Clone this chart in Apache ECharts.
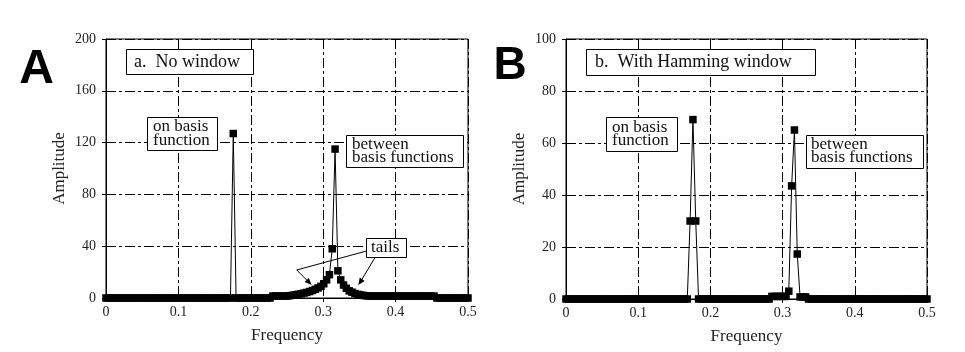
<!DOCTYPE html>
<html><head><meta charset="utf-8">
<script src="https://cdn.jsdelivr.net/npm/echarts@6/dist/echarts.min.js"></script>
<style>html,body{margin:0;padding:0;background:#fff}#c{width:965px;height:352px}</style>
</head><body><div id="c"></div>
<script>
// Frequency of each DFT bin (k/256), bins 0..128
var freq = [0,.0039,.0078,.0117,.0156,.0195,.0234,.0273,.0313,.0352,.0391,.043,.0469,.0508,.0547,.0586,.0625,.0664,.0703,.0742,
.0781,.082,.0859,.0898,.0938,.0977,.1016,.1055,.1094,.1133,.1172,.1211,.125,.1289,.1328,.1367,.1406,.1445,.1484,.1523,
.1563,.1602,.1641,.168,.1719,.1758,.1797,.1836,.1875,.1914,.1953,.1992,.2031,.207,.2109,.2148,.2188,.2227,.2266,.2305,
.2344,.2383,.2422,.2461,.25,.2539,.2578,.2617,.2656,.2695,.2734,.2773,.2813,.2852,.2891,.293,.2969,.3008,.3047,.3086,
.3125,.3164,.3203,.3242,.3281,.332,.3359,.3398,.3438,.3477,.3516,.3555,.3594,.3633,.3672,.3711,.375,.3789,.3828,.3867,
.3906,.3945,.3984,.4023,.4063,.4102,.4141,.418,.4219,.4258,.4297,.4336,.4375,.4414,.4453,.4492,.4531,.457,.4609,.4648,
.4688,.4727,.4766,.4805,.4844,.4883,.4922,.4961,.5];

// a. No window (bins 0..128)
var ampNoWindow = [
0,0,0,0,0,0,0,0,0,0, 0,0,0,0,0,0,0,0,0,0,
0,0,0,0,0,0,0,0,0,0, 0,0,0,0,0,0,0,0,0,0,
0,0,0,0,0,127,0,0,0,0, 0,0,0,0,0,0,0,0,0,1.5,
1.5,1.5,1.5,1.5,1.5,1.8,2.1,2.5,2.9,3.3, 3.8,4.3,5,5.8,6.7,7.8,9,11,14,18,
38,115,21,14,10,7.5,5.5,4.5,3.5,2.8, 2.4,2,1.7,1.5,1.5,1.5,1.5,1.5,1.5,1.5,
1.5,1.5,1.5,1.5,1.5,1.5,1.5,1.5,1.5,1.5, 1.5,1.5,1.5,1.5,1.5,1.5,1.5,0,0,0,
0,0,0,0,0,0,0,0,0];

// b. With Hamming window (bins 0..128)
var ampHamming = [
0,0,0,0,0,0,0,0,0,0, 0,0,0,0,0,0,0,0,0,0,
0,0,0,0,0,0,0,0,0,0, 0,0,0,0,0,0,0,0,0,0,
0,0,0,0,30,69,30,0,0,0, 0,0,0,0,0,0,0,0,0,0,
0,0,0,0,0,0,0,0,0,0, 0,0,0,1,1,1,1,1,1,3,
43.5,65,17.3,0.8,0.8,0.8,0,0,0,0, 0,0,0,0,0,0,0,0,0,0,
0,0,0,0,0,0,0,0,0,0, 0,0,0,0,0,0,0,0,0,0,
0,0,0,0,0,0,0,0,0];

var xTicks = [0, 0.1, 0.2, 0.3, 0.4, 0.5];
var yMaxA = 200, yStepA = 40;
var yMaxB = 100, yStepB = 20;

function pairs(a){ return freq.map(function(f,i){ return [f, a[i]]; }); }

var SERIF = '"Liberation Serif", "Times New Roman", serif';
var dash = [10,3,3,3];

function xAxis(idx){
  return {
    gridIndex: idx, type:'value', min:0, max:0.5, interval:0.1,
    name:'Frequency', nameLocation:'middle', nameGap:29,
    nameTextStyle:{fontFamily:SERIF, fontSize:17, color:'#222'},
    axisLine:{lineStyle:{color:'#000', width:1}},
    axisTick:{show:true, inside:false, length:4, lineStyle:{color:'#000'}},
    axisLabel:{fontFamily:SERIF, fontSize:14, color:'#222', margin:7,
      formatter:function(v){ return String(+v.toFixed(1)); }},
    splitLine:{show:true, lineStyle:{color:'#000', width:1, type:dash}}
  };
}
function yAxis(idx, max, step){
  return {
    gridIndex: idx, type:'value', min:0, max:max, interval:step,
    name:'Amplitude', nameLocation:'middle', nameGap:38, nameRotate:90,
    nameTextStyle:{fontFamily:SERIF, fontSize:17, color:'#222'},
    axisLine:{lineStyle:{color:'#000', width:1}},
    axisTick:{show:true, inside:false, length:4, lineStyle:{color:'#000'}},
    axisLabel:{fontFamily:SERIF, fontSize:14, color:'#222', margin:10},
    splitLine:{show:true, lineStyle:{color:'#000', width:1, type:dash}}
  };
}
function series(idx, data){
  return {
    type:'line', xAxisIndex:idx, yAxisIndex:idx, data:pairs(data),
    symbol:'rect', symbolSize:7.5, showAllSymbol:true,
    itemStyle:{color:'#000'}, lineStyle:{color:'#000', width:1},
    animation:false, silent:true
  };
}

function box(x, y, w, h, lines, tx, lineYs, size){
  var els = [{type:'rect', shape:{x:x, y:y, width:w, height:h},
    style:{fill:'#fff', stroke:'#000', lineWidth:1}, z:100}];
  lines.forEach(function(t, i){
    els.push({type:'text', x:tx, y:lineYs[i], z:101,
      style:{text:t, fontFamily:SERIF, fontSize:size, fill:'#111',
        textAlign:'left', textVerticalAlign:'middle'}});
  });
  return els;
}
function arrowHead(tip, p1, p2){
  return {type:'polygon', z:100, shape:{points:[tip, p1, p2]}, style:{fill:'#000'}};
}

var graphics = [].concat(
  [{type:'text', x:36.5, y:70, z:101, style:{text:'A', fontFamily:'"Liberation Sans", Arial, sans-serif',
     fontWeight:'bold', fontSize:48, fill:'#000', textAlign:'center', textVerticalAlign:'middle'}},
   {type:'text', x:510, y:66, z:101, style:{text:'B', fontFamily:'"Liberation Sans", Arial, sans-serif',
     fontWeight:'bold', fontSize:46, fill:'#000', textAlign:'center', textVerticalAlign:'middle'}}],
  box(126.5, 49.5, 127, 25, ['a.  No window'], 134, [62], 18),
  box(147.5, 117.5, 70, 33, ['on basis', 'function'], 153, [127, 140.5], 17),
  box(346.5, 135.5, 117, 32, ['between', 'basis functions'], 352, [144.5, 158], 17),
  box(366.5, 238.5, 40, 19, ['tails'], 371, [248], 17),
  [{type:'polyline', z:99, shape:{points:[[366.5,251],[296.7,270],[309,282.3]]}, style:{stroke:'#000', lineWidth:1, fill:null}},
   arrowHead([311.7,285],[304.6,282.1],[308.8,277.9]),
   {type:'polyline', z:99, shape:{points:[[375,257.5],[360,282.5]]}, style:{stroke:'#000', lineWidth:1, fill:null}},
   arrowHead([358.3,285],[359.7,277.5],[364.7,280.9])],
  box(586.5, 49.5, 229, 26, ['b.  With Hamming window'], 595, [62.5], 18),
  box(606.5, 117.5, 71, 34, ['on basis', 'function'], 612, [127.5, 141], 17),
  box(806.5, 135.5, 117, 33, ['between', 'basis functions'], 811, [144.5, 158], 17)
);

var chart = echarts.init(document.getElementById('c'), null, {renderer:'canvas'});
chart.setOption({
  animation:false,
  backgroundColor:'#fff',
  grid:[
    {left:106, top:39, width:362, height:259, show:true, borderColor:'#000', borderWidth:1, containLabel:false},
    {left:566, top:39, width:361, height:260, show:true, borderColor:'#000', borderWidth:1, containLabel:false}
  ],
  xAxis:[xAxis(0), xAxis(1)],
  yAxis:[yAxis(0, yMaxA, yStepA), yAxis(1, yMaxB, yStepB)],
  series:[series(0, ampNoWindow), series(1, ampHamming)],
  graphic:graphics
});
</script>
</body></html>
